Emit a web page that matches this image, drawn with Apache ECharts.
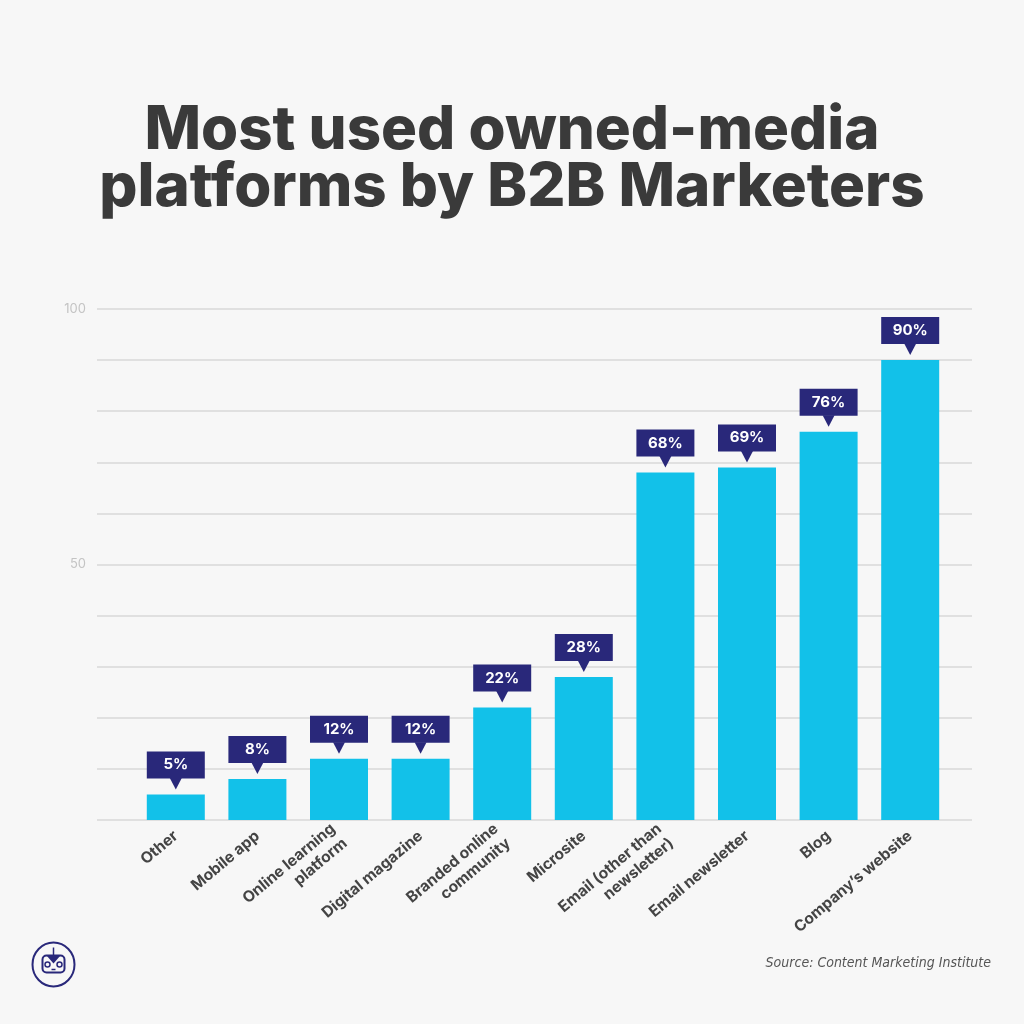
<!DOCTYPE html>
<html><head><meta charset="utf-8">
<script src="https://cdn.jsdelivr.net/npm/echarts@6/dist/echarts.min.js"></script>
<style>html,body{margin:0;padding:0;background:#f7f7f7}#c{width:1024px;height:1024px}</style>
</head><body><div id="c"></div>
<script>
const categories = ['Other','Mobile app','Online learning\nplatform','Digital magazine','Branded online\ncommunity','Microsite','Email (other than\nnewsletter)','Email newsletter','Blog','Company\u2019s website'];
const values = [5,8,12,12,22,28,68,69,76,90];
const yTickLabels = {50:'50',100:'100'};
const titleText = 'Most used owned-media\nplatforms by B2B Marketers';
const sourceText = 'Source: Content Marketing Institute';

const NAVY = '#29287a', CYAN = '#12c1e9';
const chart = echarts.init(document.getElementById('c'));
const TOP = 309, BOTTOM = 1024-820;

chart.setOption({
  backgroundColor: '#f7f7f7',
  animation: false,
  title: {
    text: titleText, left: 'center', top: 97,
    textStyle: {fontFamily: 'Inter', fontWeight: 800, fontSize: 60, lineHeight: 57, color: '#3a3a3a'}
  },
  grid: [
    {left: 97, right: 52, top: TOP, bottom: BOTTOM},
    {left: 135, right: 73, top: TOP, bottom: BOTTOM}
  ],
  xAxis: [
    {gridIndex: 0, type: 'value', min: 0, max: 1, show: false},
    {gridIndex: 1, type: 'category', data: categories,
     axisLine: {show: false}, axisTick: {show: false},
     axisLabel: {interval: 0, rotate: 40, margin: 14, fontFamily: 'Inter', fontWeight: 700, fontSize: 15.5, color: '#444', lineHeight: 19}}
  ],
  yAxis: [
    {gridIndex: 0, type: 'value', min: 0, max: 100, interval: 10,
     axisLine: {show: false}, axisTick: {show: false},
     splitLine: {lineStyle: {color: '#d9d9d9', width: 1.5}},
     axisLabel: {formatter: v => yTickLabels[v] || '', color: '#c4c4c4', fontSize: 13, fontFamily: 'Inter', margin: 11}},
    {gridIndex: 1, type: 'value', min: 0, max: 100, interval: 10, show: false}
  ],
  series: [
    {type: 'bar', xAxisIndex: 1, yAxisIndex: 1, data: values, barWidth: 58,
     itemStyle: {color: CYAN}},
    {type: 'custom', xAxisIndex: 1, yAxisIndex: 1, z: 5,
     data: values.map((v,i) => [i, v]),
     renderItem: function(params, api) {
       const p = api.coord([api.value(0), api.value(1)]);
       const w = 58, h = 27;
       const x = p[0] - w/2, bottomY = p[1] - 16;
       return {type: 'group', children: [
         {type: 'rect', shape: {x: x, y: bottomY - h, width: w, height: h}, style: {fill: NAVY}},
         {type: 'polygon', shape: {points: [[p[0]-6, bottomY-0.5],[p[0]+6, bottomY-0.5],[p[0], p[1]-5]]}, style: {fill: NAVY}},
         {type: 'text', style: {text: api.value(1) + '%', x: p[0], y: bottomY - h/2, align: 'center', verticalAlign: 'middle',
           fill: '#fff', font: 'bold 15px Inter'}}
       ]};
     }}
  ],
  graphic: [
    {type: 'text', right: 33, top: 956, style: {text: sourceText, fill: '#555', font: 'italic 14px "DejaVu Sans Condensed", "DejaVu Sans"'}},
    {type: 'group', left: 30, top: 940, children: [
      {type: 'ellipse', shape: {cx: 22, cy: 22, rx: 21, ry: 22}, style: {fill: 'none', stroke: NAVY, lineWidth: 2}},
      {type: 'rect', shape: {x: 11, y: 13, width: 22, height: 17, r: 4}, style: {fill: 'none', stroke: NAVY, lineWidth: 2}},
      {type: 'polygon', shape: {points: [[15,13],[29,13],[22,21]]}, style: {fill: NAVY}},
      {type: 'line', shape: {x1: 22, y1: 5, x2: 22, y2: 13}, style: {stroke: NAVY, lineWidth: 1.5}},
      {type: 'circle', shape: {cx: 16, cy: 22, r: 2.5}, style: {fill: 'none', stroke: NAVY, lineWidth: 1.5}},
      {type: 'circle', shape: {cx: 28, cy: 22, r: 2.5}, style: {fill: 'none', stroke: NAVY, lineWidth: 1.5}},
      {type: 'line', shape: {x1: 20, y1: 27, x2: 24, y2: 27}, style: {stroke: NAVY, lineWidth: 1.5}}
    ]}
  ]
});
</script></body></html>
